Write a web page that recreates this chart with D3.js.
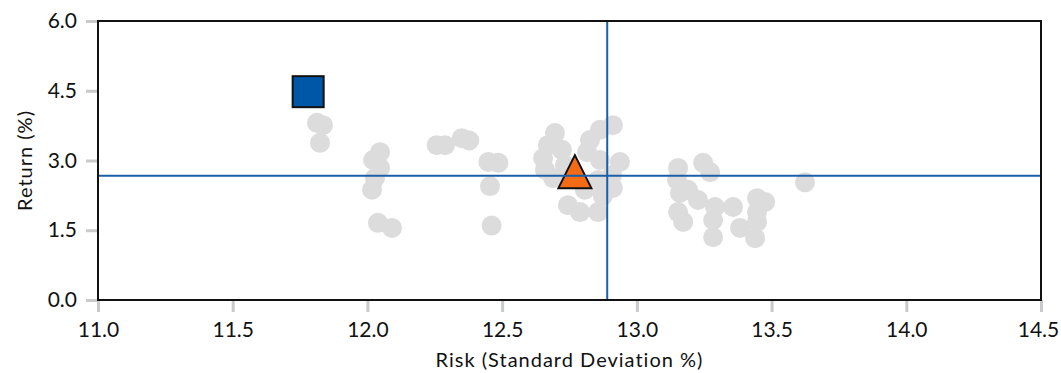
<!DOCTYPE html>
<html lang="en">
<head>
<meta charset="UTF-8">
<script src="https://d3js.org/d3.v7.min.js"></script>
<title>Risk vs Return</title>
<style>
  body { margin: 0; background: white; }
  svg text { font-family: Lato, "Open Sans", sans-serif; fill: #111; }
</style>
</head>
<body>
<svg id="chart"></svg>
<script>
// peer group (gray dots)
const peerRisk = [
  11.813, 11.835, 11.824,
  12.047, 12.021, 12.047, 12.028, 12.017, 12.039, 12.091,
  12.257, 12.288, 12.350, 12.378,
  12.449, 12.486, 12.455, 12.461,
  12.696, 12.670, 12.652, 12.659, 12.689, 12.722, 12.733, 12.744, 12.789, 12.856,
  12.911, 12.863, 12.826, 12.815, 12.863, 12.937, 12.908, 12.856, 12.911, 12.874, 12.807,
  13.153, 13.246, 13.272, 13.149, 13.160, 13.227, 13.153, 13.172, 13.190,
  13.290, 13.283, 13.283, 13.357, 13.446, 13.476, 13.446, 13.446,
  13.383, 13.439, 13.624
];
const peerReturn = [
  3.81, 3.76, 3.38,
  3.18, 3.01, 2.84, 2.62, 2.37, 1.66, 1.55,
  3.33, 3.33, 3.48, 3.43,
  2.97, 2.95, 2.45, 1.60,
  3.59, 3.33, 3.05, 2.80, 2.62, 3.23, 2.90, 2.04, 1.89, 1.89,
  3.76, 3.66, 3.44, 3.18, 3.01, 2.97, 2.69, 2.58, 2.41, 2.24, 2.37,
  2.84, 2.95, 2.75, 2.58, 2.30, 2.15, 1.89, 1.68, 2.37,
  2.00, 1.72, 1.35, 2.00, 2.19, 2.11, 1.89, 1.68,
  1.55, 1.33, 2.53
];
const fundPoint = [11.78, 4.48];      // blue square
const benchPoint = [12.77, 2.76];     // orange triangle
const avgRisk = 12.89;
const avgReturn = 2.67;
const xTicks = [11.0, 11.5, 12.0, 12.5, 13.0, 13.5, 14.0, 14.5];
const yTicks = [0.0, 1.5, 3.0, 4.5, 6.0];

const w = 1061, h = 373;
const m = {left: 98, right: 1041, top: 21, bottom: 300};

const svg = d3.select("#chart").attr("width", w).attr("height", h);

const x = d3.scaleLinear().domain([11, 14.5]).range([m.left, m.right]);
const y = d3.scaleLinear().domain([0, 6]).range([m.bottom, m.top]);

// axes
const xAxis = d3.axisBottom(x).tickValues(xTicks).tickSize(12).tickPadding(10)
  .tickFormat(d3.format(".1f"));
const yAxis = d3.axisLeft(y).tickValues(yTicks).tickSize(12).tickPadding(9)
  .tickFormat(d3.format(".1f"));

const gx = svg.append("g").attr("transform", "translate(0," + m.bottom + ")").call(xAxis);
const gy = svg.append("g").attr("transform", "translate(" + m.left + ",0)").call(yAxis);
[gx, gy].forEach(g => {
  g.select(".domain").remove();
  g.selectAll(".tick line").attr("stroke", "#c8cacc").attr("stroke-width", 3);
  g.selectAll(".tick text").style("font-size", "21px").attr("fill", "#111");
});
// keep the last x label inside the page
gx.selectAll(".tick text").filter(d => d === 14.5).attr("dx", "-3px");

// axis titles
svg.append("text")
  .attr("x", (m.left + m.right) / 2).attr("y", 367)
  .attr("text-anchor", "middle").style("font-size", "20px").style("letter-spacing", "1px")
  .text("Risk (Standard Deviation %)");
svg.append("text")
  .attr("transform", "translate(32," + ((m.top + m.bottom) / 2) + ") rotate(-90)")
  .attr("text-anchor", "middle").style("font-size", "20px").style("letter-spacing", "1px")
  .text("Return (%)");

// peer dots
svg.append("g").selectAll("circle")
  .data(peerRisk.map((r, i) => [r, peerReturn[i]]))
  .enter().append("circle")
  .attr("cx", d => x(d[0]))
  .attr("cy", d => y(d[1]))
  .attr("r", 10)
  .attr("fill", "#dcdcdc");

// fund square
const sq = 31;
svg.append("rect")
  .attr("x", x(fundPoint[0]) - sq / 2)
  .attr("y", y(fundPoint[1]) - sq / 2)
  .attr("width", sq).attr("height", sq)
  .attr("fill", "#0057a8")
  .attr("stroke", "#111").attr("stroke-width", 2);

// benchmark triangle
const tw = 33, th = 33;
const bx = x(benchPoint[0]), by = y(benchPoint[1]);
svg.append("path")
  .attr("d", d3.line()([[bx, by - th / 2], [bx + tw / 2, by + th / 2], [bx - tw / 2, by + th / 2]]) + "Z")
  .attr("fill", "#f36c15")
  .attr("stroke", "#111").attr("stroke-width", 2).attr("stroke-linejoin", "miter");

// average lines
svg.append("line")
  .attr("x1", x(avgRisk)).attr("x2", x(avgRisk))
  .attr("y1", m.top).attr("y2", m.bottom)
  .attr("stroke", "#1a5fa8").attr("stroke-width", 2);
svg.append("line")
  .attr("x1", m.left).attr("x2", m.right)
  .attr("y1", y(avgReturn)).attr("y2", y(avgReturn))
  .attr("stroke", "#1a5fa8").attr("stroke-width", 2);

// frame
svg.append("rect")
  .attr("x", m.left).attr("y", m.top)
  .attr("width", m.right - m.left).attr("height", m.bottom - m.top)
  .attr("fill", "none").attr("stroke", "#111").attr("stroke-width", 2);
</script>
</body>
</html>
